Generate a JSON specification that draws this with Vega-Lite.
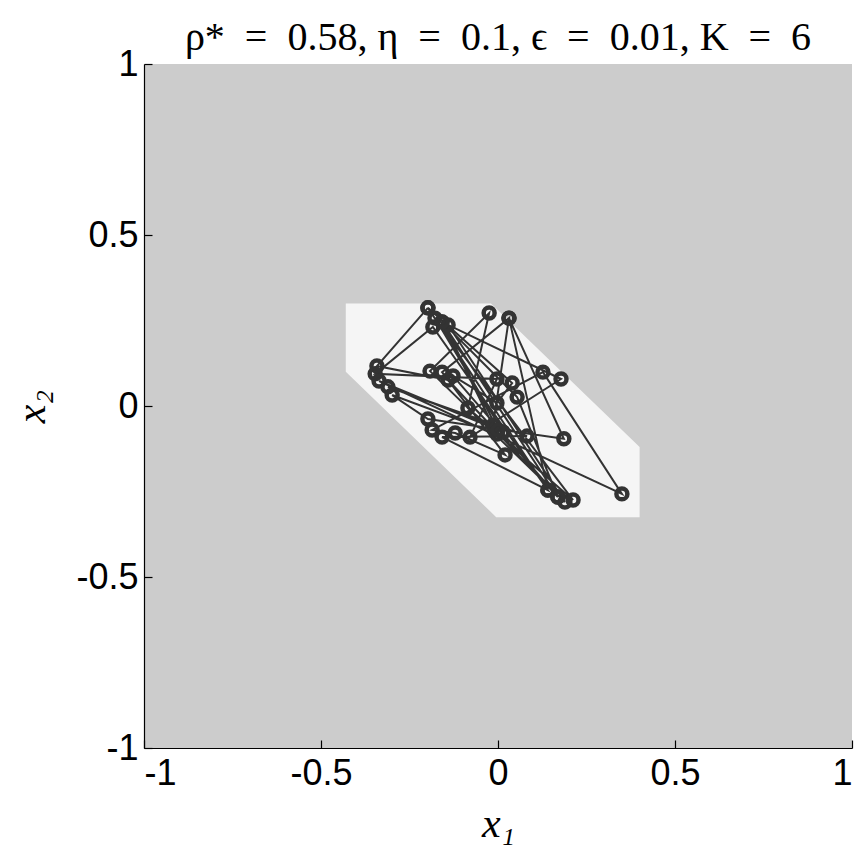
{
  "$schema": "https://vega.github.io/schema/vega-lite/v6.json",
  "width": 708,
  "height": 684,
  "autosize": "none",
  "padding": {"left": 144, "top": 64, "right": 12, "bottom": 116},
  "background": "white",
  "title": {
    "text": "ρ*\u2002=\u20020.58, η\u2002=\u20020.1, ϵ\u2002=\u20020.01, K\u2002=\u20026",
    "font": "Liberation Serif",
    "fontSize": 40,
    "fontWeight": "normal",
    "color": "black",
    "anchor": "middle",
    "offset": -12
  },
  "config": {
    "view": {"fill": "#cccccc", "stroke": null},
    "axis": {
      "grid": false,
      "domainColor": "black",
      "domainWidth": 1.2,
      "tickColor": "black",
      "tickWidth": 1.2,
      "tickSize": -8,
      "labelFont": "Liberation Sans",
      "labelFontSize": 36,
      "labelColor": "black",
      "titleFont": "Liberation Serif",
      "titleFontStyle": "italic",
      "titleFontWeight": "normal",
      "titleFontSize": 42,
      "titleColor": "black"
    }
  },
  "datasets": {
    "region": [
      {"x": -0.43, "top": 0.30, "bot": 0.10},
      {"x": -0.02, "top": 0.30, "bot": -0.31},
      {"x": -0.005, "top": 0.285, "bot": -0.325},
      {"x": 0.40, "top": -0.12, "bot": -0.325}
    ],
    "path": [
      {"step": 1, "x": -0.198, "y": 0.287},
      {"step": 2, "x": -0.342, "y": 0.117},
      {"step": 3, "x": -0.141, "y": 0.076},
      {"step": 4, "x": 0.169, "y": -0.266},
      {"step": 5, "x": -0.158, "y": 0.246},
      {"step": 6, "x": -0.003, "y": -0.082},
      {"step": 7, "x": -0.299, "y": 0.032},
      {"step": 8, "x": -0.198, "y": -0.038},
      {"step": 9, "x": 0.186, "y": -0.096},
      {"step": 10, "x": 0.031, "y": 0.257},
      {"step": 11, "x": 0.141, "y": -0.246},
      {"step": 12, "x": -0.184, "y": 0.231},
      {"step": 13, "x": -0.347, "y": 0.094},
      {"step": 14, "x": -0.003, "y": 0.079},
      {"step": 15, "x": -0.079, "y": -0.091},
      {"step": 16, "x": 0.178, "y": 0.079},
      {"step": 17, "x": -0.141, "y": 0.237},
      {"step": 18, "x": 0.189, "y": -0.281},
      {"step": 19, "x": -0.192, "y": 0.102},
      {"step": 20, "x": -0.025, "y": 0.272},
      {"step": 21, "x": -0.085, "y": -0.006},
      {"step": 22, "x": 0.212, "y": -0.275},
      {"step": 23, "x": -0.178, "y": 0.257},
      {"step": 24, "x": 0.014, "y": -0.076},
      {"step": 25, "x": -0.336, "y": 0.073},
      {"step": 26, "x": 0.350, "y": -0.257},
      {"step": 27, "x": 0.127, "y": 0.099},
      {"step": 28, "x": -0.186, "y": -0.070},
      {"step": 29, "x": -0.121, "y": -0.079},
      {"step": 30, "x": 0.020, "y": -0.143},
      {"step": 31, "x": -0.158, "y": 0.099},
      {"step": 32, "x": 0.031, "y": 0.257},
      {"step": 33, "x": -0.014, "y": -0.056},
      {"step": 34, "x": -0.311, "y": 0.056},
      {"step": 35, "x": 0.082, "y": -0.088},
      {"step": 36, "x": -0.158, "y": -0.091},
      {"step": 37, "x": 0.141, "y": -0.246},
      {"step": 38, "x": -0.198, "y": 0.287},
      {"step": 39, "x": 0.040, "y": 0.067},
      {"step": 40, "x": -0.003, "y": 0.009},
      {"step": 41, "x": -0.127, "y": 0.088},
      {"step": 42, "x": 0.169, "y": -0.266},
      {"step": 43, "x": 0.054, "y": 0.026},
      {"step": 44, "x": -0.158, "y": 0.246},
      {"step": 45, "x": 0.000, "y": -0.070}
    ]
  },
  "layer": [
    {
      "data": {"name": "region"},
      "mark": {"type": "area", "color": "#f5f5f5", "opacity": 1, "orient": "vertical"},
      "encoding": {
        "x": {
          "field": "x", "type": "quantitative",
          "scale": {"domain": [-1, 1], "nice": false, "zero": false},
          "axis": {
            "values": [-1, -0.5, 0, 0.5, 1],
            "labelExpr": "(datum.value < 0 ? '-' : '') + format(abs(datum.value), '~g')",
            "labelPadding": 16,
            "title": "x₁",
            "titlePadding": 12
          }
        },
        "y": {
          "field": "top", "type": "quantitative",
          "scale": {"domain": [-1, 1], "nice": false, "zero": false},
          "axis": {
            "values": [-1, -0.5, 0, 0.5, 1],
            "labelExpr": "(datum.value < 0 ? '-' : '') + format(abs(datum.value), '~g')",
            "labelPadding": 14,
            "title": "x₂",
            "titlePadding": 22
          }
        },
        "y2": {"field": "bot"}
      }
    },
    {
      "data": {"name": "path"},
      "mark": {"type": "line", "color": "#333333", "strokeWidth": 2},
      "encoding": {
        "x": {"field": "x", "type": "quantitative"},
        "y": {"field": "y", "type": "quantitative"},
        "order": {"field": "step", "type": "quantitative"}
      }
    },
    {
      "data": {"name": "path"},
      "mark": {"type": "point", "shape": "circle", "filled": false, "color": "#333333", "strokeWidth": 4.5, "size": 120, "opacity": 1},
      "encoding": {
        "x": {"field": "x", "type": "quantitative"},
        "y": {"field": "y", "type": "quantitative"}
      }
    }
  ]
}
